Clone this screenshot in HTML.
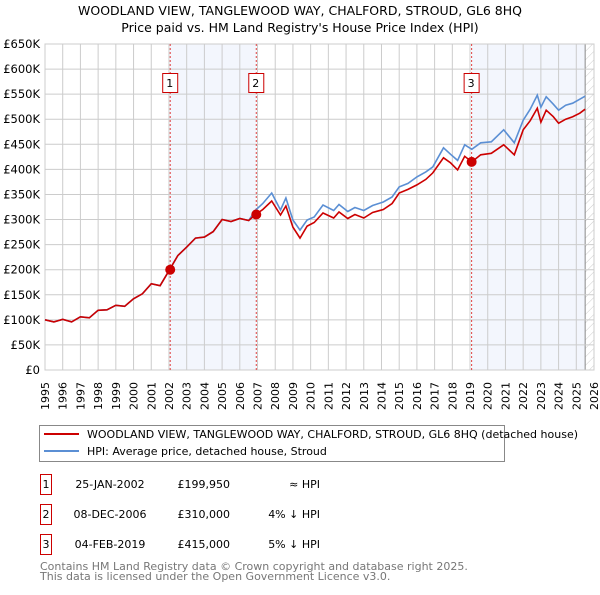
<!DOCTYPE html>
<html><head><meta charset="utf-8"><style>
body{margin:0;background:#fff;font-family:"Liberation Sans","DejaVu Sans",sans-serif;}
svg text{font-family:"DejaVu Sans","Liberation Sans",sans-serif;}
</style></head><body>
<svg id="chart" width="600" height="590" viewBox="0 0 600 590" xmlns="http://www.w3.org/2000/svg">
<defs><pattern id="hatch" width="6" height="6" patternUnits="userSpaceOnUse" patternTransform="rotate(45)"><line x1="0" y1="0" x2="0" y2="6" stroke="#ccc" stroke-width="1"/></pattern></defs>
<text x="300" y="15" text-anchor="middle" font-size="12.5">WOODLAND VIEW, TANGLEWOOD WAY, CHALFORD, STROUD, GL6 8HQ</text>
<text x="300" y="32" text-anchor="middle" font-size="12.5">Price paid vs. HM Land Registry's House Price Index (HPI)</text>
<g id="plot"></g>
<g>
<rect x="39.5" y="425.5" width="465" height="36" fill="#fff" stroke="#888"/>
<line x1="44" y1="434" x2="79" y2="434" stroke="#cc0000" stroke-width="2"/>
<text x="87" y="438" font-size="11">WOODLAND VIEW, TANGLEWOOD WAY, CHALFORD, STROUD, GL6 8HQ (detached house)</text>
<line x1="44" y1="451" x2="79" y2="451" stroke="#5b8fd4" stroke-width="2"/>
<text x="87" y="455" font-size="11">HPI: Average price, detached house, Stroud</text>
</g>
<g id="table" font-size="11"></g>
<text x="40" y="570" font-size="11" fill="#777">Contains HM Land Registry data © Crown copyright and database right 2025.</text>
<text x="40" y="580" font-size="11" fill="#777">This data is licensed under the Open Government Licence v3.0.</text>
</svg>
<script>
const years=[1995,1995.5,1996,1996.5,1997,1997.5,1998,1998.5,1999,1999.5,2000,2000.5,2001,2001.5,2002,2002.5,2003,2003.5,2004,2004.5,2005,2005.5,2006,2006.5,2006.9,2007.3,2007.8,2008.3,2008.6,2009.0,2009.4,2009.8,2010.2,2010.7,2011.3,2011.6,2012.1,2012.5,2013.0,2013.5,2014.1,2014.6,2015.0,2015.5,2016.0,2016.5,2016.9,2017.5,2017.9,2018.3,2018.7,2019.1,2019.6,2020.2,2020.9,2021.5,2022.0,2022.4,2022.8,2023.0,2023.3,2023.7,2024.0,2024.4,2024.8,2025.2,2025.5];
const hpiValues=[100,96,101,96,106,104,119,120,129,127,142,152,172,168,198,228,245,263,265,276,300,296,302,298,319,332,353,319,343,299,279,299,305,329,318,330,316,324,318,328,335,345,365,372,385,395,405,443,430,418,449,440,453,455,479,453,498,520,548,524,545,530,518,528,532,540,546];
const priceValues=[100,96,101,96,106,104,119,120,129,127,142,152,172,168,198,228,245,263,265,276,300,296,302,298,310,320,337,309,327,285,263,287,294,313,303,315,302,310,303,314,320,332,353,360,369,380,393,423,413,399,426,415,429,432,449,429,479,497,522,494,518,505,492,500,505,512,520];
const saleYears=[2002.07,2006.93,2019.09];
const salePrices=[199.95,310,415];
const saleDates=["25-JAN-2002","08-DEC-2006","04-FEB-2019"];
const saleLabels=["£199,950","£310,000","£415,000"];
const saleRel=["≈ HPI","4% ↓ HPI","5% ↓ HPI"];
const yTicks=[0,50,100,150,200,250,300,350,400,450,500,550,600,650];
const xTicks=[1995,1996,1997,1998,1999,2000,2001,2002,2003,2004,2005,2006,2007,2008,2009,2010,2011,2012,2013,2014,2015,2016,2017,2018,2019,2020,2021,2022,2023,2024,2025,2026];
const X0=45,X1=594,Y0=370,Y1=44;
const xs=y=>X0+(y-1995)/(2026-1995)*(X1-X0);
const ys=v=>Y0-v/650*(Y0-Y1);
const NS="http://www.w3.org/2000/svg";
const plot=document.getElementById('plot');
function mk(tag,at,parent){const e=document.createElementNS(NS,tag);for(const k in at)e.setAttribute(k,at[k]);(parent||plot).appendChild(e);return e;}
let s1=mk('rect',{x:xs(saleYears[0]),y:Y1,width:xs(saleYears[1])-xs(saleYears[0]),height:Y0-Y1,fill:'#f3f6fd'});


let s2=mk('rect',{x:xs(saleYears[2]),y:Y1,width:xs(2025.5)-xs(saleYears[2]),height:Y0-Y1,fill:'#f3f6fd'});


let h=mk('rect',{x:xs(2025.5),y:Y1,width:X1-xs(2025.5),height:Y0-Y1,fill:'url(#hatch)'});


mk('line',{x1:xs(2025.5),x2:xs(2025.5),y1:Y1,y2:Y0,stroke:'#888'});
yTicks.forEach(v=>{
 let l=mk('line',{x1:X0,x2:X1,y1:ys(v),y2:ys(v),stroke:'#ccc'});
 
 
 let t=mk('text',{x:40,y:ys(v)+4,'text-anchor':'end','font-size':'11.5'});
 t.textContent=v===0?'£0':'£'+v+'K';
 
 
});
xTicks.forEach(y=>{
 let l=mk('line',{x1:xs(y),x2:xs(y),y1:Y1,y2:Y0,stroke:'#ccc'});
 
 
 let t=mk('text',{x:0,y:0,'text-anchor':'end','font-size':'11',transform:`translate(${xs(y)+4},${Y0+12}) rotate(-90)`});
 t.textContent=y;
 
 
});
mk('rect',{x:X0,y:Y1,width:X1-X0,height:Y0-Y1,fill:'none',stroke:'#ccc'});
saleYears.forEach((y,i)=>{
 let l=mk('line',{x1:xs(y),x2:xs(y),y1:Y1,y2:Y0,stroke:'#e04040','stroke-dasharray':'2,2'});
 
 
 let r=mk('rect',{x:xs(y)-7.5,y:73.5,width:15,height:19,fill:'#fff',stroke:'#cc0000'});
 
 
 let t=mk('text',{x:xs(y)-0.5,y:87,'text-anchor':'middle','font-size':'11'});
 t.textContent=i+1;
 
 
});
function path(vals){return vals.map((v,i)=>(i?'L':'M')+xs(years[i]).toFixed(1)+','+ys(v).toFixed(1)).join('');}
let hp=mk('path',{d:path(hpiValues),fill:'none',stroke:'#5b8fd4','stroke-width':1.6});


let pp=mk('path',{d:path(priceValues),fill:'none',stroke:'#cc0000','stroke-width':1.6});


saleYears.forEach((y,i)=>{
 let c=mk('circle',{cx:xs(y),cy:ys(salePrices[i]),r:5,fill:'#cc0000'});
 
 
});
const tb=document.getElementById('table');
const rowY=[486,516,546];
saleDates.forEach((d,i)=>{
 let r=mk('rect',{x:40.5,y:rowY[i]-11.5,width:11,height:20,fill:'#fff',stroke:'#cc0000'},tb);
 
 
 let a=mk('text',{x:46,y:rowY[i]+2,'text-anchor':'middle'},tb);a.textContent=i+1;
 
 
 let b=mk('text',{x:110,y:rowY[i]+2,'text-anchor':'middle'},tb);b.textContent=d;
 
 
 let c=mk('text',{x:230,y:rowY[i]+2,'text-anchor':'end'},tb);c.textContent=saleLabels[i];
 
 
 let e=mk('text',{x:320,y:rowY[i]+2,'text-anchor':'end'},tb);e.textContent=saleRel[i];
 
 
});
</script>
</body></html>
